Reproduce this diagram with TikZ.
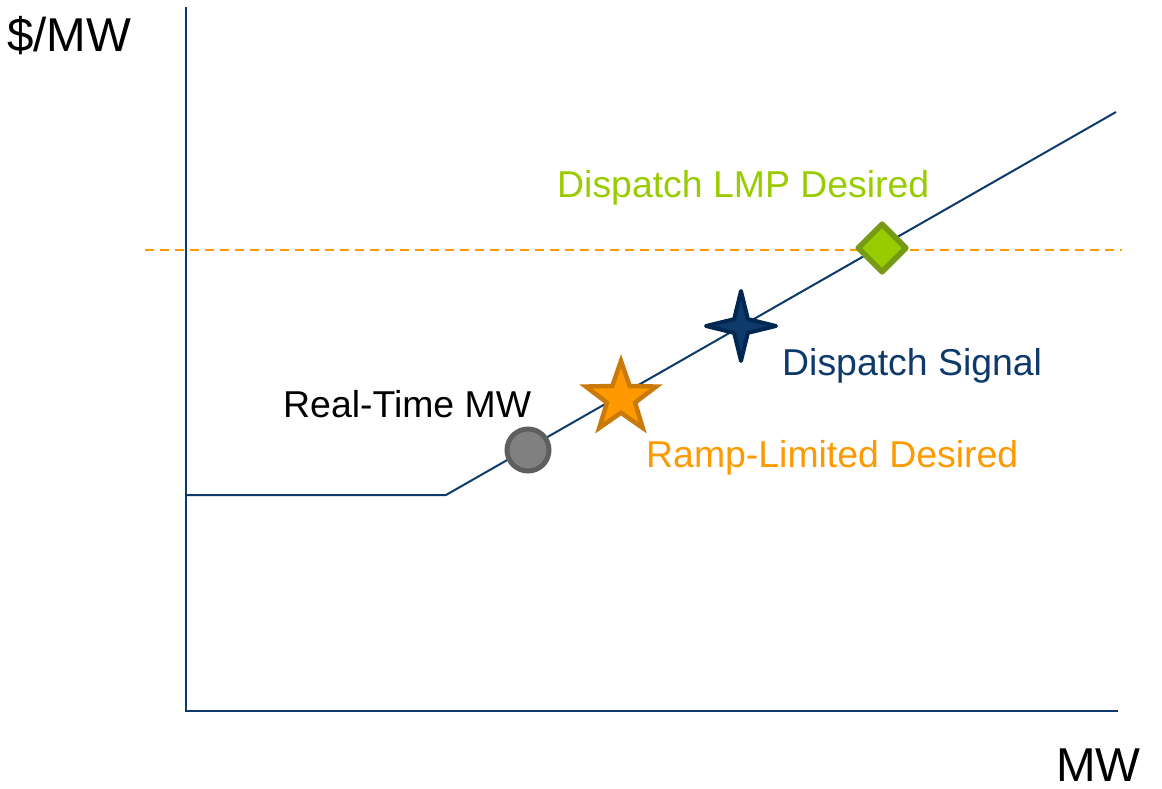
\documentclass[tikz,border=0pt]{standalone}
\usepackage{fontspec}
\setmainfont{Liberation Sans}
\usepackage{tikz}
\usetikzlibrary{shapes.geometric,positioning,calc}
\definecolor{navy}{HTML}{0E3A6B}
\definecolor{navydk}{HTML}{002652}
\definecolor{lmpgreen}{HTML}{99CC00}
\definecolor{lmpdark}{HTML}{779A14}
\definecolor{rampor}{HTML}{FF9900}
\definecolor{rampdk}{HTML}{C97A0A}
\definecolor{rtgray}{HTML}{808080}
\definecolor{rtdark}{HTML}{5F5F5F}

\begin{document}
\begin{tikzpicture}[x = 1pt, y = -1pt,
  lbl/.style = {font = \fontsize{37.4}{44}\selectfont, anchor = base west, inner sep = 0pt},
  axlbl/.style = {font = \fontsize{47.5}{56}\selectfont, anchor = base west, inner sep = 0pt}]
\useasboundingbox (0,0) rectangle (1162,789);
% axes
\coordinate (origin) at (186,711);
\coordinate (ytop) at (186,7);
\coordinate (xend) at (1118,711);
\draw[line width = 2.5pt, navy] (ytop) -- (origin) -- (xend);
\node[axlbl] (ylab) at (7,52) {\$/MW};
\node[axlbl] (xlab) at (1056,781) {MW};
% offer curve and price level
\coordinate (cstart) at (186,495);
\coordinate (kink) at (446,495);
\coordinate (cend) at (1116,112);
\coordinate (pleft) at (145,250);
\coordinate (pright) at (1122,250);
\draw[line width = 2pt, rampor, dash pattern = on 9pt off 6pt] (pleft) -- (pright);
\draw[line width = 2pt, navy] (cstart) -- (kink) -- (cend);
% points on the curve
\node[circle, fill = rtgray, draw = rtdark, line width = 5pt, minimum size = 42pt, inner sep = 0pt] (rt) at (528,450) {};
\node[star, star points = 5, star point ratio = 2.5, fill = rampor, draw = rampdk, line width = 4.5pt, minimum size = 74pt, inner sep = 0pt] (ramp) at (621,398) {};
\node[star, star points = 4, star point ratio = 3.6, fill = navy, draw = navydk, line width = 4pt, minimum size = 70pt, inner sep = 0pt, line join = round] (sig) at (741,326) {};
\node[diamond, fill = lmpgreen, draw = lmpdark, line width = 5.5pt, minimum size = 50pt, inner sep = 0pt, line join = round] (lmp) at (882,248) {};
% labels
\node[lbl, lmpgreen] (lmptxt) at (557,197) {Dispatch LMP Desired};
\node[lbl, navy] (sigtxt) at (782,375) {Dispatch Signal};
\node[lbl] (rttxt) at (283,417) {Real-Time MW};
\node[lbl, rampor] (ramptxt) at (646,467) {Ramp-Limited Desired};
\end{tikzpicture}
\end{document}
